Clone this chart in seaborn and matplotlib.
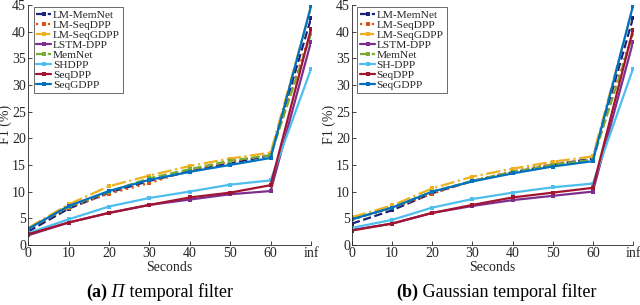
import matplotlib
matplotlib.use("Agg")
import matplotlib.pyplot as plt
import seaborn as sns
import numpy as np
from matplotlib.offsetbox import TextArea, HPacker, AnnotationBbox

sns.set_style("ticks")
plt.rcParams['font.family'] = ['Liberation Serif', 'DejaVu Serif']

x_labels = ["0", "10", "20", "30", "40", "50", "60", "inf"]
x_pos = list(range(len(x_labels)))

methods_a = ["LM-MemNet", "LM-SeqDPP", "LM-SeqGDPP", "LSTM-DPP", "MemNet", "SHDPP", "SeqDPP", "SeqGDPP"]
methods_b = ["LM-MemNet", "LM-SeqDPP", "LM-SeqGDPP", "LSTM-DPP", "MemNet", "SH-DPP", "SeqDPP", "SeqGDPP"]

colors = ["#1a237e", "#D95319", "#EDB120", "#7E2F8E", "#77AC30", "#4DBEEE", "#A2142F", "#0072BD"]
styles = ["--", ":", "-.", "-", "--", "-", "-", "-"]

# Panel (a): Pi temporal filter
a_lm_memnet = [2.5, 6.8, 9.8, 12.0, 13.8, 15.3, 16.8, 42.5]
a_lm_seqdpp = [3.0, 7.0, 9.6, 11.6, 14.0, 15.6, 16.9, 40.2]
a_lm_seqgdpp = [3.2, 7.6, 11.0, 13.0, 14.8, 16.2, 17.3, 44.5]
a_lstm_dpp = [1.8, 4.2, 6.0, 7.5, 8.5, 9.5, 10.1, 38.1]
a_memnet = [3.0, 7.2, 10.0, 12.5, 14.2, 15.8, 16.8, 39.6]
a_shdpp = [2.2, 4.8, 7.2, 8.8, 10.0, 11.3, 12.1, 33.0]
a_seqdpp = [2.0, 4.2, 6.0, 7.5, 8.9, 9.8, 11.2, 40.5]
a_seqgdpp = [3.0, 7.3, 10.1, 12.2, 13.7, 15.0, 16.3, 44.8]

# Panel (b): Gaussian temporal filter
b_lm_memnet = [4.0, 6.5, 9.7, 12.0, 13.6, 15.0, 16.2, 42.5]
b_lm_seqdpp = [4.8, 6.9, 9.6, 12.0, 13.8, 15.2, 16.0, 40.0]
b_lm_seqgdpp = [5.2, 7.4, 10.6, 12.8, 14.3, 15.6, 16.6, 44.5]
b_lstm_dpp = [2.8, 4.0, 6.0, 7.3, 8.4, 9.2, 10.0, 38.0]
b_memnet = [4.8, 7.0, 10.0, 12.0, 13.7, 15.0, 16.0, 39.5]
b_shdpp = [3.2, 4.7, 7.0, 8.6, 9.8, 10.8, 11.5, 33.0]
b_seqdpp = [2.7, 4.0, 6.0, 7.5, 8.9, 9.8, 10.7, 40.3]
b_seqgdpp = [4.8, 7.0, 10.0, 11.9, 13.4, 14.7, 15.7, 44.8]

series_a = [a_lm_memnet, a_lm_seqdpp, a_lm_seqgdpp, a_lstm_dpp, a_memnet, a_shdpp, a_seqdpp, a_seqgdpp]
series_b = [b_lm_memnet, b_lm_seqdpp, b_lm_seqgdpp, b_lstm_dpp, b_memnet, b_shdpp, b_seqdpp, b_seqgdpp]

cap_a = [("(a)", "bold", "normal"), (" Π", "normal", "italic"), (" temporal filter", "normal", "normal")]
cap_b = [("(b)", "bold", "normal"), (" Gaussian temporal filter", "normal", "normal")]

fig = plt.figure(figsize=(6.4, 3.05), dpi=100)
ax1 = fig.add_axes([0.044, 0.197, 0.442, 0.787])
ax2 = fig.add_axes([0.550, 0.197, 0.439, 0.787])

for ax, names, series, cap, cx in [(ax1, methods_a, series_a, cap_a, 0.249),
                                   (ax2, methods_b, series_b, cap_b, 0.776)]:
    for name, vals, c, ls in zip(names, series, colors, styles):
        sns.lineplot(x=x_pos, y=vals, ax=ax, color=c, linestyle=ls, linewidth=1.6,
                     marker='s', markersize=3.2, markeredgewidth=0, label=name)
    ax.set_xlim(0, 7)
    ax.set_ylim(0, 45)
    ax.set_xticks(x_pos)
    ax.set_xticklabels(x_labels)
    ax.set_yticks(np.arange(0, 46, 5))
    ax.tick_params(direction='in', length=3, labelsize=10, colors='#262626', width=0.6, pad=1.5)
    for s in ['top', 'right']:
        ax.spines[s].set_visible(False)
    for s in ['left', 'bottom']:
        ax.spines[s].set_color('#262626')
        ax.spines[s].set_linewidth(0.6)
    ax.set_xlabel("Seconds", fontsize=10, color='#262626', labelpad=1)
    ax.set_ylabel("F1 (%)", fontsize=10, color='#262626', labelpad=0)
    leg = ax.legend(loc='upper left', fontsize=8.2, handlelength=1.3, handletextpad=0.15,
                    labelspacing=0.0, borderpad=0.25, frameon=True, fancybox=False,
                    bbox_to_anchor=(0.015, 0.995), borderaxespad=0.1)
    leg.get_frame().set_edgecolor('#262626')
    leg.get_frame().set_linewidth(0.6)

    parts = [TextArea(t, textprops=dict(fontsize=13, fontweight=w, fontstyle=st, color='black'))
             for t, w, st in cap]
    box = HPacker(children=parts, align="baseline", pad=0, sep=0)
    ab = AnnotationBbox(box, (cx, 0.012), xycoords='figure fraction', frameon=False,
                        box_alignment=(0.5, 0.0), pad=0)
    fig.add_artist(ab)

fig.savefig("out.png", dpi=100)
